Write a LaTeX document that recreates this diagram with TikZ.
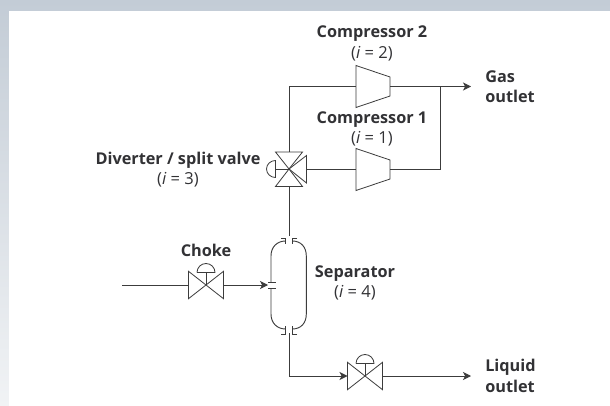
\documentclass[tikz,border=0pt]{standalone}
\usepackage{fontspec}
\setmainfont{Open Sans}
\usetikzlibrary{arrows.meta,positioning,calc}
\definecolor{stripetop}{RGB}{195,204,214}
\definecolor{stripebot}{RGB}{241,243,245}
\definecolor{inktext}{RGB}{50,50,53}
\definecolor{inkline}{RGB}{60,60,60}

\begin{document}
\begin{tikzpicture}[
    x=0.75pt, y=-0.75pt,
    pipe/.style={line width=0.7pt, inkline},
    flow/.style={pipe, -{Stealth[length=6pt,width=6pt,inset=1.6pt]}},
    sym/.style={line width=0.6pt, inkline, line join=miter},
    ttl/.style={font=\fontsize{12.2pt}{14pt}\selectfont\bfseries, inktext, inner sep=0pt, anchor=base},
    sub/.style={font=\fontsize{12.4pt}{14pt}\selectfont, inktext, inner sep=0pt, anchor=base},
    outlbl/.style={ttl, anchor=base west}
]
\useasboundingbox (0,0) rectangle (610,406);
% Page background
\shade[top color=stripetop, bottom color=stripebot] (0,0) rectangle (610,406);
\fill[white] (9,11) rectangle (610,406);

% Equipment positions
\coordinate (inlet) at (122,285);
\coordinate (choke) at (206,285);
\coordinate (sepin) at (268,285);
\coordinate (sepgas) at (289,236);
\coordinate (sepliq) at (289,333);
\coordinate (bend1) at (289,376);
\coordinate (liqv) at (365,376);
\coordinate (liqout) at (471,376);
\coordinate (divert) at (289,169);
\coordinate (bend2) at (289,86.5);
\coordinate (comp1) at (356,169.5);
\coordinate (comp2) at (356,86.5);
\coordinate (joint) at (440,86.5);
\coordinate (bend3) at (440,169.5);
\coordinate (gasout) at (471,86.5);

% Compressors
\foreach \cname in {comp1,comp2} {
  \draw[sym] ($(\cname)+(0,-21)$) -- ($(\cname)+(34,-9.5)$) -- ($(\cname)+(34,9.5)$) -- ($(\cname)+(0,21)$) -- cycle;
}

% Choke and liquid valve
\foreach \vname in {choke,liqv} {
  \draw[sym] ($(\vname)+(-17.5,-13.7)$) -- ($(\vname)+(17.5,13.7)$) -- ($(\vname)+(17.5,-13.7)$) -- ($(\vname)+(-17.5,13.7)$) -- cycle;
  \draw[sym] (\vname) -- ($(\vname)+(0,-12.5)$);
  \draw[sym] ($(\vname)+(-9,-12.5)$) -- ($(\vname)+(9,-12.5)$) arc[start angle=0, end angle=180, radius=6.75pt];
}

% Diverter
\draw[sym] (divert) -- ($(divert)+(-13.5,-17)$) -- ($(divert)+(13.5,-17)$) -- cycle;
\draw[sym] (divert) -- ($(divert)+(-13.5,17.5)$) -- ($(divert)+(13.5,17.5)$) -- cycle;
\draw[sym] (divert) -- ($(divert)+(17.5,-13.5)$) -- ($(divert)+(17.5,14)$) -- cycle;
\draw[sym] (divert) -- ($(divert)+(-13.5,0)$);
\draw[sym] ($(divert)+(-13.5,-8.5)$) arc[start angle=90, end angle=270, x radius=6.75pt, y radius=6.375pt] -- cycle;

% Separator vessel
\draw[pipe] (271,282) -- (271,256) .. controls (271,247) and (277,241) .. (285.7,241);
\draw[pipe] (292.3,241) .. controls (301,241) and (306.3,247) .. (306.3,256) -- (306.3,314) .. controls (306.3,323) and (301,329) .. (292.3,329);
\draw[pipe] (285.7,329) .. controls (277,329) and (271,323) .. (271,314) -- (271,288);

% Flanges
\draw[sym] (281,238) -- (285.7,238) -- (285.7,244);
\draw[sym] (297,238) -- (292.3,238) -- (292.3,244);
\draw[sym] (281,334) -- (285.7,334) -- (285.7,326);
\draw[sym] (297,334) -- (292.3,334) -- (292.3,326);
\draw[sym] (268,282) -- (276,282);
\draw[sym] (268,288) -- (276,288);

% Pipes
\draw[pipe] (inlet) -- ($(choke)+(-17.5,0)$);
\draw[flow] ($(choke)+(17.5,0)$) -- (sepin);
\draw[pipe] (sepgas) -- ($(divert)+(0,17.5)$);
\draw[pipe] ($(divert)+(0,-17)$) -- (bend2) -- (comp2);
\draw[pipe] ($(divert)+(17.5,0.5)$) -- (comp1);
\draw[flow] ($(comp2)+(34,0)$) -- (gasout);
\draw[pipe] ($(comp1)+(34,0)$) -- (bend3) -- (joint);
\draw[flow] (sepliq) -- (bend1) -- ($(liqv)+(-17.5,0)$);
\draw[flow] ($(liqv)+(17.5,0)$) -- (liqout);

% Labels
\node[ttl] (lcomp2) at (372,38) {Compressor 2};
\node[sub] (icomp2) at (372,59) {(\textit{i} = 2)};
\node[ttl] (lcomp1) at (372,124) {Compressor 1};
\node[sub] (icomp1) at (372,144) {(\textit{i} = 1)};
\node[ttl] (ldiv) at (178,165) {Diverter / split valve};
\node[sub] (idiv) at (178,185) {(\textit{i} = 3)};
\node[ttl] (lchoke) at (206,256.5) {Choke};
\node[ttl] (lsep) at (355,277) {Separator};
\node[sub] (isep) at (355,297) {(\textit{i} = 4)};
\node[outlbl] (lgas) at (485,83) {Gas};
\node[outlbl] (lgas2) at (485,103) {outlet};
\node[outlbl] (lliq) at (485,371.5) {Liquid};
\node[outlbl] (lliq2) at (485,392.5) {outlet};
\end{tikzpicture}
\end{document}
